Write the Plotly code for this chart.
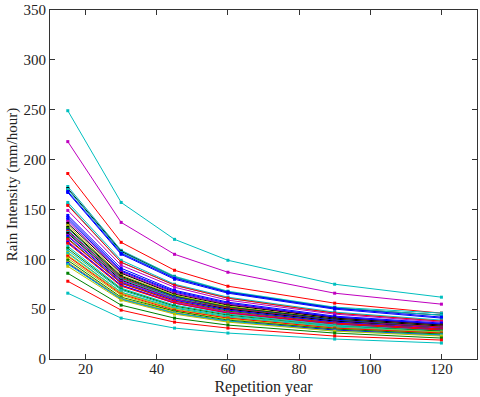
import plotly.graph_objects as go

# repetition years (x) and rain intensity curves (mm/hour), one list per station
years = [15, 30, 45, 60, 90, 120]

s01 = [249, 157, 120, 99, 75, 62]
s02 = [218, 137, 105, 87, 66, 55]
s03 = [186, 117, 89, 73, 56, 46]
s04 = [173, 109, 83, 68, 52, 46]
s05 = [171, 108, 82, 67, 51, 44]
s06 = [170, 107, 82, 67, 51, 44]
s07 = [168, 106, 81, 67, 51, 42]
s08 = [167, 105, 80, 66, 50, 41]
s09 = [157, 99, 75, 62, 47, 39]
s10 = [155, 97, 74, 61, 46, 38]
s11 = [154, 97, 74, 61, 46, 38]
s12 = [149, 94, 72, 59, 45, 37]
s13 = [144, 91, 69, 57, 43, 36]
s14 = [142, 89, 68, 56, 42, 35]
s15 = [140, 88, 67, 55, 42, 35]
s16 = [138, 87, 66, 55, 41, 34]
s17 = [136, 86, 65, 54, 41, 34]
s18 = [134, 84, 64, 53, 40, 33]
s19 = [132, 83, 63, 52, 40, 33]
s20 = [131, 82, 63, 52, 39, 32]
s21 = [129, 81, 62, 51, 39, 32]
s22 = [128, 81, 61, 51, 38, 32]
s23 = [127, 80, 61, 50, 38, 31]
s24 = [126, 79, 60, 50, 38, 31]
s25 = [124, 78, 60, 49, 37, 31]
s26 = [123, 77, 59, 49, 37, 30]
s27 = [121, 76, 58, 48, 36, 30]
s28 = [120, 76, 58, 47, 36, 30]
s29 = [118, 74, 57, 47, 35, 29]
s30 = [117, 74, 56, 46, 35, 29]
s31 = [116, 73, 56, 46, 35, 29]
s32 = [113, 71, 54, 45, 34, 28]
s33 = [111, 70, 53, 44, 33, 28]
s34 = [109, 69, 52, 43, 33, 27]
s35 = [107, 67, 51, 42, 32, 27]
s36 = [106, 67, 51, 42, 32, 26]
s37 = [104, 66, 50, 41, 31, 26]
s38 = [103, 65, 49, 41, 31, 26]
s39 = [101, 64, 48, 40, 30, 25]
s40 = [99, 62, 48, 39, 30, 25]
s41 = [97, 61, 47, 38, 29, 24]
s42 = [96, 60, 46, 38, 29, 24]
s43 = [95, 60, 46, 38, 28, 24]
s44 = [93, 59, 45, 37, 28, 23]
s45 = [86, 54, 41, 34, 26, 21]
s46 = [78, 49, 37, 31, 23, 19]
s47 = [66, 41, 31, 26, 20, 16]

series = [s01, s02, s03, s04, s05, s06, s07, s08, s09, s10, s11, s12, s13, s14, s15, s16,
          s17, s18, s19, s20, s21, s22, s23, s24, s25, s26, s27, s28, s29, s30, s31, s32,
          s33, s34, s35, s36, s37, s38, s39, s40, s41, s42, s43, s44, s45, s46, s47]
codes = ["c", "m", "r", "c", "k", "c", "b", "b", "c", "c", "r", "m", "b", "b", "b", "m",
         "k", "y", "k", "g", "b", "r", "c", "k", "m", "b", "g", "r", "m", "b", "r", "c",
         "g", "c", "y", "c", "y", "r", "y", "g", "y", "b", "c", "y", "g", "r", "c"]

# matlab style short colour codes
matlab = {"b": "#0000ff", "g": "#008000", "r": "#ff0000", "c": "#00bfbf",
          "m": "#bf00bf", "y": "#bfbf00", "k": "#000000"}

fig = go.Figure()
for vals, code in zip(series, codes):
    fig.add_trace(go.Scatter(x=years, y=vals, mode="lines+markers",
                             line=dict(color=matlab[code], width=1),
                             marker=dict(symbol="square", size=3, color=matlab[code]),
                             showlegend=False))

axis_style = dict(showline=True, linecolor="#333333", linewidth=1, mirror="ticks",
                  ticks="inside", ticklen=5, tickcolor="#333333", showgrid=False,
                  zeroline=False, automargin=False, tickfont=dict(size=15, color="#222222"))

fig.update_xaxes(range=[10, 130], tickvals=[20, 40, 60, 80, 100, 120], ticklabelstandoff=-4,
                 title=dict(text="Repetition year", font=dict(size=16, color="#222222"), standoff=4),
                 **axis_style)
fig.update_yaxes(range=[0, 350], dtick=50,
                 title=dict(text="Rain Intensity (mm/hour)", font=dict(size=15, color="#222222"), standoff=2),
                 **axis_style)

fig.update_layout(width=480, height=397, margin=dict(l=50, r=3, t=10, b=38),
                  paper_bgcolor="white", plot_bgcolor="white",
                  font=dict(family="Liberation Serif"))

# drop the default page margin so the 480x397 figure fills the window
fig.write_html("out.html", config={"displayModeBar": False},
               post_script="document.body.style.margin='0';document.body.style.overflow='hidden';")
